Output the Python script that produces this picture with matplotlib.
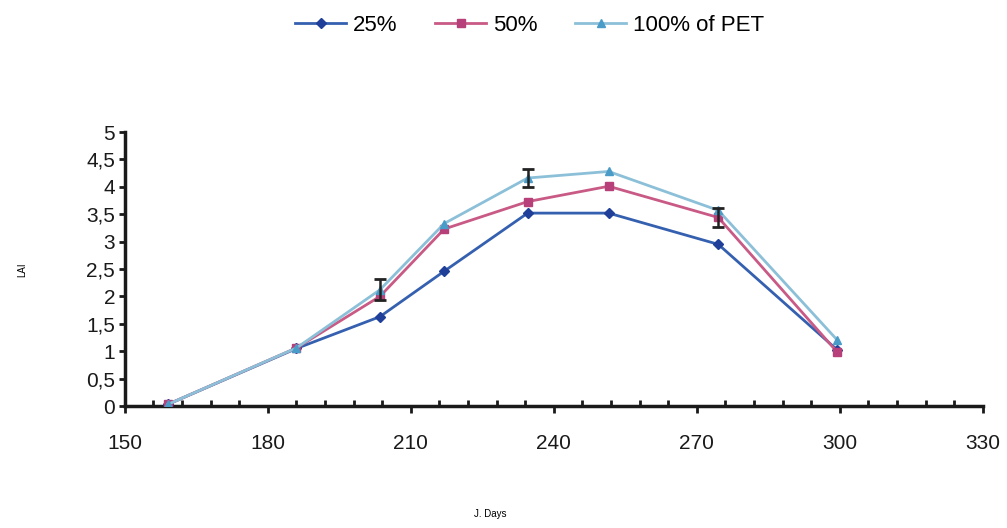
import numpy as np
import matplotlib.pyplot as plt
from matplotlib.ticker import MultipleLocator, FuncFormatter

plt.rcParams['font.family'] = ['Liberation Sans', 'DejaVu Sans']

# Julian days of the LAI samplings
days = [159, 186, 203.5, 217, 234.5, 251.5, 274.5, 299.5]

# LAI per irrigation level (fraction of PET)
lai_25 = [0.03, 1.05, 1.63, 2.46, 3.52, 3.52, 2.95, 1.02]
lai_50 = [0.03, 1.06, 2.00, 3.23, 3.73, 4.01, 3.44, 0.98]
lai_100 = [0.03, 1.06, 2.12, 3.33, 4.16, 4.28, 3.57, 1.20]

# standard errors drawn as bars (nan where none is shown)
err_50 = [np.nan, np.nan, np.nan, np.nan, np.nan, np.nan, 0.18, np.nan]
err_100 = [np.nan, np.nan, 0.19, np.nan, 0.17, np.nan, np.nan, np.nan]

labels = ['25%', '50%', '100% of PET']

fig = plt.figure(figsize=(10.07, 5.28), dpi=100)
ax = fig.add_axes([0.124, 0.231, 0.852, 0.519])

ax.plot(days, lai_25, color='#3560B0', lw=2, marker='D', ms=5,
        mfc='#1F3F99', mec='#1F3F99', label=labels[0], zorder=3)
ax.plot(days, lai_50, color='#C85A85', lw=2, marker='s', ms=6,
        mfc='#B8407A', mec='#B8407A', label=labels[1], zorder=4)
ax.plot(days, lai_100, color='#8CC0D8', lw=2, marker='^', ms=6,
        mfc='#4A9CC8', mec='#4A9CC8', label=labels[2], zorder=5)

ax.errorbar(days, lai_50, yerr=err_50, fmt='none', ecolor='#222222',
            elinewidth=1.8, capsize=4, capthick=2, zorder=6)
ax.errorbar(days, lai_100, yerr=err_100, fmt='none', ecolor='#222222',
            elinewidth=1.8, capsize=4, capthick=2, zorder=6)

ax.set_xlim(150, 330)
ax.set_ylim(0, 5)
ax.xaxis.set_major_locator(MultipleLocator(30))
ax.xaxis.set_minor_locator(MultipleLocator(6))
ax.yaxis.set_major_locator(MultipleLocator(0.5))
ax.yaxis.set_major_formatter(FuncFormatter(
    lambda v, p: ('%g' % v).replace('.', ',')))

for s in ['top', 'right']:
    ax.spines[s].set_visible(False)
for s in ['left', 'bottom']:
    ax.spines[s].set_linewidth(2.5)
    ax.spines[s].set_color('#1a1a1a')

ax.tick_params(axis='x', which='major', direction='out', length=5, width=2,
               pad=15, labelsize=15, colors='#1a1a1a')
ax.tick_params(axis='x', which='minor', direction='in', length=4, width=2,
               colors='#1a1a1a')
ax.tick_params(axis='y', direction='out', length=4, width=2, pad=3,
               labelsize=15, colors='#1a1a1a')

fig.text(0.022, 0.49, 'LAI', fontsize=7, rotation=90, ha='center', va='center')
fig.text(0.487, 0.017, 'J. Days', fontsize=7, ha='center', va='bottom')

fig.legend(loc='upper center', bbox_to_anchor=(0.526, 1.01), ncol=3,
           frameon=False, fontsize=16, handlelength=2.3, columnspacing=1.7,
           handletextpad=0.3)

fig.savefig('out.png', dpi=100)
